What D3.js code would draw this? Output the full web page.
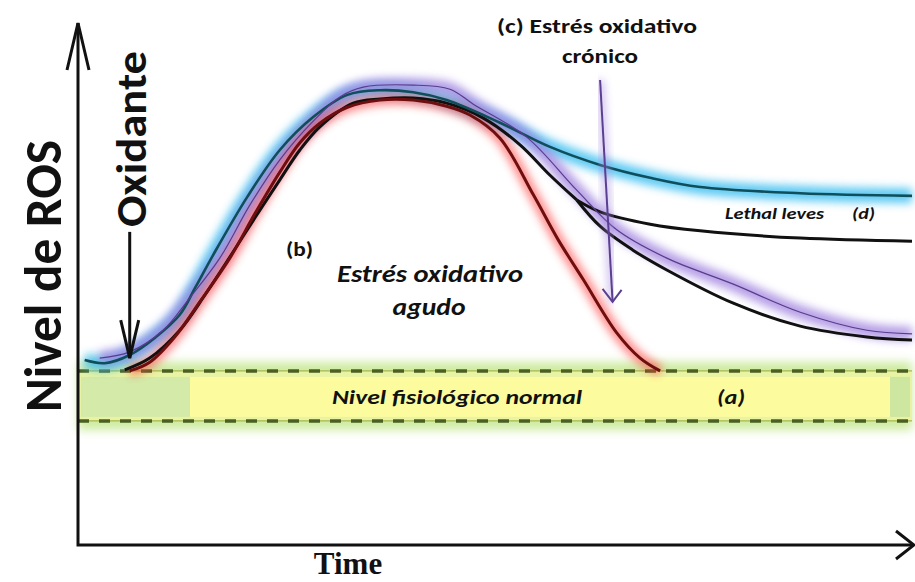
<!DOCTYPE html>
<html>
<head>
<meta charset="utf-8">
<script src="https://cdn.jsdelivr.net/npm/d3@7"></script>
<style>
  body { margin: 0; background: #fff; }
  svg { display: block; }
  text { font-family: Carlito, "Open Sans", sans-serif; font-weight: bold; fill: #111; }
</style>
</head>
<body>
<svg id="chart" width="915" height="582"></svg>
<script>
// time (0-100) vs ROS level (0-100)
const lethalCurve = [[0.8,35.9],[3.2,35.3],[6.2,36.9],[9.2,40.2],[12.2,44.7],[14.1,50.1],[16.2,56.3],[20.3,67.6],[24.2,76.7],[28.2,83.1],[32.3,87.4],[36.2,88.3],[40.2,87.9],[44.2,86.4],[50.6,82.0],[56.6,77.3],[62.6,73.8],[68.6,71.3],[74.6,69.5],[86.6,68.3],[100,67.8]];
const chronicCurve = [[2.6,36.3],[6.2,37.5],[10.2,41.7],[13.4,48.0],[17.0,55.7],[20.6,66.0],[24.2,74.8],[28.2,82.3],[31.4,87.0],[34.2,88.9],[40.2,89.3],[44.6,88.5],[47.4,85.6],[53.8,79.2],[59.8,68.9],[64.6,61.2],[70.6,55.7],[78.5,50.7],[86.6,45.2],[94.6,41.7],[100,41.0]];
const blackTrunk = [[5.6,34.0],[8.6,36.3],[12.2,41.7],[15.2,48.5],[18.2,55.9],[21.2,63.5],[24.2,70.9],[26.6,76.7],[29.0,81.2],[33.0,85.8],[36.2,86.6],[40.2,86.8],[44.2,85.8],[48.6,82.9],[53.0,77.7],[56.6,71.8],[59.8,67.0]];
const lethalTail = [[59.8,67.0],[62.6,64.7],[68.6,62.3],[74.6,61.0],[86.6,59.6],[100,59.0]];
const chronicTail = [[59.8,67.0],[62.6,61.9],[66.5,57.3],[70.6,53.4],[78.5,47.0],[86.6,42.5],[94.6,40.4],[100,39.8]];
const acuteCurve = [[6.2,33.8],[8.6,35.5],[11.6,40.4],[14.6,47.2],[18.2,55.7],[21.2,64.3],[24.2,72.4],[26.6,78.1],[29.0,81.9],[32.3,85.0],[36.2,86.4],[40.2,86.4],[44.2,85.2],[47.0,83.5],[50.6,79.0],[54.6,68.0],[57.6,59.2],[60.6,51.5],[64.6,41.2],[67.4,36.3],[69.8,33.8]];
const normalBand = [24.1, 33.8];
const oxidantArrow = [[6.2,60.8],[6.2,36.3]];
const chronicArrow = [[62.6,90.3],[64.1,47.2]];

const svg = d3.select("#chart");
const x = d3.scaleLinear().domain([0, 100]).range([78, 912]);
const y = d3.scaleLinear().domain([0, 100]).range([545, 30]);

const defs = svg.append("defs");
[["glow", 4], ["bandGlow", 5]].forEach(([id, sd]) => {
  defs.append("filter").attr("id", id)
    .attr("x", "-10%").attr("y", "-30%").attr("width", "120%").attr("height", "160%")
    .append("feGaussianBlur").attr("stdDeviation", sd);
});

const line = d3.line().x(d => x(d[0])).y(d => y(d[1])).curve(d3.curveCatmullRom.alpha(0.5));

// normal physiological band
const bTop = y(normalBand[1]), bBot = y(normalBand[0]);
svg.append("rect").attr("x", x(0)).attr("y", bTop - 9).attr("width", x(100) - x(0)).attr("height", bBot - bTop + 18)
  .attr("fill", "#cdeba0").attr("filter", "url(#bandGlow)");
svg.append("rect").attr("x", x(0)).attr("y", bTop).attr("width", x(100) - x(0)).attr("height", bBot - bTop)
  .attr("fill", "#e8f3a4");
svg.append("rect").attr("x", x(0) + 3).attr("y", bTop + 6).attr("width", 110).attr("height", bBot - bTop - 10)
  .attr("fill", "#d3eaa8");
svg.append("rect").attr("x", 190).attr("y", bTop + 6).attr("width", 700).attr("height", bBot - bTop - 10)
  .attr("fill", "#fcfc9e");
svg.append("rect").attr("x", 890).attr("y", bTop + 6).attr("width", 20).attr("height", bBot - bTop - 10)
  .attr("fill", "#cde6a0");
[bTop, bBot].forEach(yy => {
  svg.append("line").attr("x1", x(0)).attr("x2", x(100)).attr("y1", yy).attr("y2", yy)
    .attr("stroke", "#9aa83a").attr("stroke-width", 1);
  svg.append("line").attr("x1", x(0)).attr("x2", x(100)).attr("y1", yy).attr("y2", yy)
    .attr("stroke", "#4b5f22").attr("stroke-width", 3.5).attr("stroke-dasharray", "11,10");
});

// glows
svg.append("path").datum(lethalCurve).attr("d", line).attr("fill", "none")
  .attr("stroke", "#37bdf0").attr("stroke-width", 15).attr("opacity", 0.8).attr("filter", "url(#glow)");
svg.append("path").datum(chronicCurve).attr("d", line).attr("fill", "none")
  .attr("stroke", "#9d7fde").attr("stroke-width", 14).attr("opacity", 0.75).attr("filter", "url(#glow)");
svg.append("path").datum(acuteCurve).attr("d", line).attr("fill", "none")
  .attr("stroke", "#ff3c3c").attr("stroke-width", 11).attr("opacity", 0.6).attr("filter", "url(#glow)");

// curves
[blackTrunk, lethalTail, chronicTail].forEach(c => {
  svg.append("path").datum(c).attr("d", line).attr("fill", "none")
    .attr("stroke", "#111").attr("stroke-width", 3);
});
svg.append("path").datum(acuteCurve).attr("d", line).attr("fill", "none")
  .attr("stroke", "#6e0e0e").attr("stroke-width", 3);
svg.append("path").datum(lethalCurve).attr("d", line).attr("fill", "none")
  .attr("stroke", "#0f4e5a").attr("stroke-width", 2.6);
svg.append("path").datum(chronicCurve).attr("d", line).attr("fill", "none")
  .attr("stroke", "#5a3b8c").attr("stroke-width", 1.2);

// chronic arrow
const ca0 = [x(chronicArrow[0][0]), y(chronicArrow[0][1])], ca1 = [x(chronicArrow[1][0]), y(chronicArrow[1][1])];
svg.append("line").attr("x1", ca0[0]).attr("y1", ca0[1]).attr("x2", ca1[0]).attr("y2", ca1[1])
  .attr("stroke", "#a88ce0").attr("stroke-width", 7).attr("opacity", 0.6).attr("filter", "url(#glow)");
svg.append("line").attr("x1", ca0[0]).attr("y1", ca0[1]).attr("x2", ca1[0]).attr("y2", ca1[1])
  .attr("stroke", "#5b3f92").attr("stroke-width", 2);
svg.append("polyline").attr("points", [[ca1[0] - 10, ca1[1] - 13], ca1, [ca1[0] + 9, ca1[1] - 12]].join(" "))
  .attr("fill", "none").attr("stroke", "#5b3f92").attr("stroke-width", 2);

// oxidant arrow
const oa0 = [x(oxidantArrow[0][0]), y(oxidantArrow[0][1])], oa1 = [x(oxidantArrow[1][0]), y(oxidantArrow[1][1])];
svg.append("line").attr("x1", oa0[0]).attr("y1", oa0[1]).attr("x2", oa1[0]).attr("y2", oa1[1])
  .attr("stroke", "#111").attr("stroke-width", 3);
svg.append("polyline").attr("points", [[oa1[0] - 9, oa1[1] - 38], oa1, [oa1[0] + 9, oa1[1] - 38]].join(" "))
  .attr("fill", "none").attr("stroke", "#111").attr("stroke-width", 3);

// axes
svg.append("path").attr("d", `M${x(0)},${y(100) - 7}V${y(0)}H${x(100) + 2}`)
  .attr("fill", "none").attr("stroke", "#111").attr("stroke-width", 3);
svg.append("polyline").attr("points", `${x(0) - 11},70 ${x(0)},${y(100) - 7} ${x(0) + 11},70`)
  .attr("fill", "none").attr("stroke", "#111").attr("stroke-width", 3);
svg.append("polyline").attr("points", `${x(100) - 16},${y(0) - 14} ${x(100) + 2},${y(0)} ${x(100) - 16},${y(0) + 14}`)
  .attr("fill", "none").attr("stroke", "#111").attr("stroke-width", 3);

// labels
svg.append("text").attr("transform", "translate(61,276) rotate(-90)").attr("text-anchor", "middle")
  .attr("font-size", 52).attr("textLength", 272).attr("lengthAdjust", "spacingAndGlyphs").text("Nivel de ROS");
svg.append("text").attr("transform", "translate(146,139) rotate(-90)").attr("text-anchor", "middle")
  .attr("font-size", 42).attr("textLength", 176).attr("lengthAdjust", "spacingAndGlyphs").text("Oxidante");
svg.append("text").attr("x", 348).attr("y", 574).attr("text-anchor", "middle")
  .style("font-family", "'Liberation Serif', serif").attr("font-size", 31).text("Time");

svg.append("text").attr("x", 597).attr("y", 33).attr("text-anchor", "middle").attr("font-size", 21)
  .attr("textLength", 200).attr("lengthAdjust", "spacingAndGlyphs").text("(c) Estrés oxidativo");
svg.append("text").attr("x", 600).attr("y", 63).attr("text-anchor", "middle").attr("font-size", 21)
  .attr("textLength", 76).attr("lengthAdjust", "spacingAndGlyphs").text("crónico");
svg.append("text").attr("x", 286).attr("y", 256).attr("font-size", 20)
  .attr("textLength", 27).attr("lengthAdjust", "spacingAndGlyphs").text("(b)");
svg.append("text").attr("x", 337).attr("y", 282).attr("font-size", 25).attr("font-style", "italic")
  .attr("textLength", 186).attr("lengthAdjust", "spacingAndGlyphs").text("Estrés oxidativo");
svg.append("text").attr("x", 429).attr("y", 315).attr("text-anchor", "middle").attr("font-size", 25).attr("font-style", "italic")
  .attr("textLength", 73).attr("lengthAdjust", "spacingAndGlyphs").text("agudo");
svg.append("text").attr("x", 725).attr("y", 219).attr("font-size", 17).attr("font-style", "italic")
  .attr("textLength", 99).attr("lengthAdjust", "spacingAndGlyphs").text("Lethal leves");
svg.append("text").attr("x", 852).attr("y", 219).attr("font-size", 17).attr("font-style", "italic")
  .attr("textLength", 23).attr("lengthAdjust", "spacingAndGlyphs").text("(d)");
svg.append("text").attr("x", 332).attr("y", 404).attr("font-size", 20).attr("font-style", "italic")
  .attr("textLength", 250).attr("lengthAdjust", "spacingAndGlyphs").text("Nivel fisiológico  normal");
svg.append("text").attr("x", 717).attr("y", 404).attr("font-size", 20).attr("font-style", "italic")
  .attr("textLength", 28).attr("lengthAdjust", "spacingAndGlyphs").text("(a)");
</script>
</body>
</html>
